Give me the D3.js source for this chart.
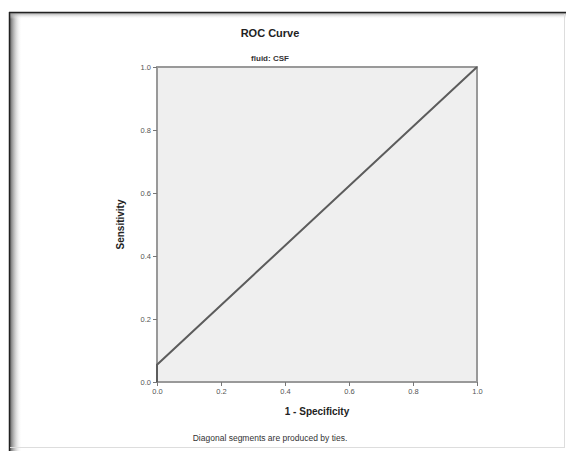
<!DOCTYPE html>
<html><head><meta charset="utf-8">
<script src="https://cdn.jsdelivr.net/npm/d3@7"></script>
<style>body{margin:0;background:#fff;} svg{display:block;font-family:"Liberation Sans",Arial,sans-serif;}</style>
</head><body>
<script>
const title = "ROC Curve";
const subtitle = "fluid: CSF";
const xLabel = "1 - Specificity";
const yLabel = "Sensitivity";
const footnote = "Diagonal segments are produced by ties.";
const fpr = [0, 0, 1];
const tpr = [0, 0.055, 1];
const tickValues = [0, 0.2, 0.4, 0.6, 0.8, 1.0];

const W = 566, H = 451;
const svg = d3.select("body").append("svg").attr("width", W).attr("height", H);
const defs = svg.append("defs");
const gl = defs.append("linearGradient").attr("id","gl").attr("x1",0).attr("x2",1).attr("y1",0).attr("y2",0);
gl.append("stop").attr("offset",0).attr("stop-color","#666");
gl.append("stop").attr("offset",1).attr("stop-color","#fff").attr("stop-opacity",0);
const gt = defs.append("linearGradient").attr("id","gt").attr("x1",0).attr("x2",0).attr("y1",0).attr("y2",1);
gt.append("stop").attr("offset",0).attr("stop-color","#888");
gt.append("stop").attr("offset",1).attr("stop-color","#fff").attr("stop-opacity",0);

// frame
svg.append("rect").attr("x",10).attr("y",12).attr("width",12).attr("height",H-12).attr("fill","url(#gl)");
svg.append("rect").attr("x",10).attr("y",12).attr("width",W-10).attr("height",7).attr("fill","url(#gt)");
svg.append("line").attr("x1",9.5).attr("x2",9.5).attr("y1",12).attr("y2",H).attr("stroke","#222").attr("stroke-width",1.5);
svg.append("line").attr("x1",9).attr("x2",W).attr("y1",12.5).attr("y2",12.5).attr("stroke","#222").attr("stroke-width",1.5);
svg.append("line").attr("x1",564.5).attr("x2",564.5).attr("y1",14).attr("y2",448).attr("stroke","#ddd");
svg.append("line").attr("x1",10).attr("x2",565).attr("y1",447.5).attr("y2",447.5).attr("stroke","#ddd");

const m = {l:157, t:67, r:477, b:382};
const x = d3.scaleLinear().domain([0,1]).range([m.l, m.r]);
const y = d3.scaleLinear().domain([0,1]).range([m.b, m.t]);

svg.append("rect").attr("x",m.l).attr("y",m.t).attr("width",m.r-m.l).attr("height",m.b-m.t)
  .attr("fill","#efefef").attr("stroke","#999").attr("stroke-width",2);

const xAxis = svg.append("g").attr("transform",`translate(0,${m.b})`)
  .call(d3.axisBottom(x).tickValues(tickValues).tickFormat(d3.format(".1f")).tickSize(4).tickPadding(3));
const yAxis = svg.append("g").attr("transform",`translate(${m.l},0)`)
  .call(d3.axisLeft(y).tickValues(tickValues).tickFormat(d3.format(".1f")).tickSize(4).tickPadding(2));
[xAxis,yAxis].forEach(a=>{
  a.select(".domain").remove();
  a.selectAll("line").attr("stroke","#777");
  a.selectAll("text").attr("fill","#555").attr("font-size",7.5);
});

svg.append("path").datum(fpr.map((v,i)=>[v,tpr[i]]))
  .attr("d", d3.line().x(d=>x(d[0])).y(d=>y(d[1])))
  .attr("fill","none").attr("stroke","#5c5c5c").attr("stroke-width",2);

svg.append("text").attr("x",270).attr("y",37).attr("text-anchor","middle")
  .attr("font-size",11).attr("font-weight","bold").attr("fill","#222").text(title);
svg.append("text").attr("x",270).attr("y",61).attr("text-anchor","middle")
  .attr("font-size",8).attr("font-weight","bold").attr("fill","#333").text(subtitle);
svg.append("text").attr("x",(m.l+m.r)/2).attr("y",415).attr("text-anchor","middle")
  .attr("font-size",10).attr("font-weight","bold").attr("fill","#222").text(xLabel);
svg.append("text").attr("transform",`translate(124,${(m.t+m.b)/2}) rotate(-90)`).attr("text-anchor","middle")
  .attr("font-size",10).attr("font-weight","bold").attr("fill","#222").text(yLabel);
svg.append("text").attr("x",270).attr("y",441).attr("text-anchor","middle")
  .attr("font-size",8.5).attr("fill","#333").text(footnote);
</script>
</body></html>
